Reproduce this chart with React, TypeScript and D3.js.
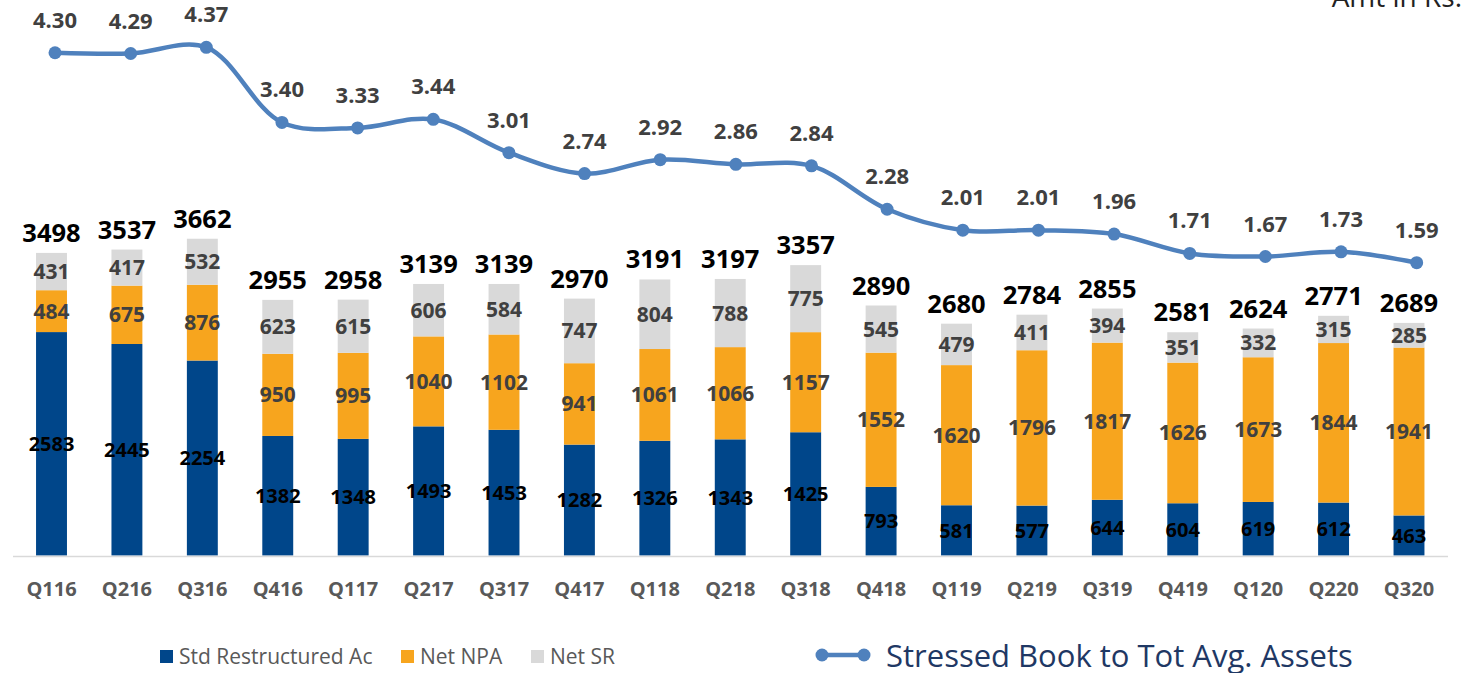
import React from "react";
import * as d3 from "d3";

const quarters = [
  "Q116", "Q216", "Q316", "Q416", "Q117", "Q217", "Q317", "Q417", "Q118", "Q218",
  "Q318", "Q418", "Q119", "Q219", "Q319", "Q419", "Q120", "Q220", "Q320",
];
const stdRestructured = [2583, 2445, 2254, 1382, 1348, 1493, 1453, 1282, 1326, 1343, 1425, 793, 581, 577, 644, 604, 619, 612, 463];
const netNpa = [484, 675, 876, 950, 995, 1040, 1102, 941, 1061, 1066, 1157, 1552, 1620, 1796, 1817, 1626, 1673, 1844, 1941];
const netSr = [431, 417, 532, 623, 615, 606, 584, 747, 804, 788, 775, 545, 479, 411, 394, 351, 332, 315, 285];
const stressedRatio = [4.30, 4.29, 4.37, 3.40, 3.33, 3.44, 3.01, 2.74, 2.92, 2.86, 2.84, 2.28, 2.01, 2.01, 1.96, 1.71, 1.67, 1.73, 1.59];

const seriesNames = ["Std Restructured Ac", "Net NPA", "Net SR"];
const seriesColors = ["#00468a", "#f7a51e", "#d9d9d9"];
const lineName = "Stressed Book to Tot Avg. Assets";

const W = 1461;
const H = 673;
const FONT = "'Open Sans', sans-serif";

export default function App() {
  const x = d3.scaleBand<string>().domain(quarters).range([13.8, 1446.7]).paddingInner(0.59).paddingOuter(0.295);
  // line markers sit a touch right of the bar centres in the original
  const xLine = d3.scaleBand<string>().domain(quarters).range([17.2, 1454.5]);
  const y = d3.scaleLinear().domain([0, 4000]).range([555.5, 209.5]);
  const y2 = d3.scaleLinear().domain([0, 5]).range([385.9, -1.5]);

  const rows = quarters.map((q, i) => ({ q, std: stdRestructured[i], npa: netNpa[i], sr: netSr[i] }));
  const stack = d3.stack<any>().keys(["std", "npa", "sr"])(rows);

  const linePts: [number, number][] = quarters.map((q, i) => [
    (xLine(q) ?? 0) + xLine.bandwidth() / 2,
    y2(stressedRatio[i]),
  ]);
  const linePath = d3.line().curve(d3.curveCatmullRom.alpha(0.5))(linePts) ?? "";

  const bw = x.bandwidth();

  return (
    <svg width={W} height={H} style={{ position: "absolute", left: 0, top: 0, background: "#fff" }} fontFamily={FONT}>
      <text x={1462} y={7} textAnchor="end" fontSize={28} fill="#222">Amt in Rs.</text>

      {/* bars */}
      {stack.map((layer, si) => (
        <g key={si}>
          {layer.map((d, i) => (
            <rect
              key={i}
              x={x(quarters[i])}
              y={y(d[1])}
              width={bw}
              height={y(d[0]) - y(d[1])}
              fill={seriesColors[si]}
            />
          ))}
        </g>
      ))}

      {/* axis line */}
      <line x1={13} x2={1448} y1={556.5} y2={556.5} stroke="#d9d9d9" strokeWidth={1.5} />

      {/* segment labels */}
      {stack.map((layer, si) => (
        <g key={"l" + si}>
          {layer.map((d, i) => (
            <text
              key={i}
              x={(x(quarters[i]) ?? 0) + bw / 2}
              y={(y(d[0]) + y(d[1])) / 2}
              dy="0.36em"
              textAnchor="middle"
              fontSize={si === 0 ? 20 : 21}
              fontWeight="bold"
              fill={si === 0 ? "#000" : "#404040"}
            >
              {d[1] - d[0]}
            </text>
          ))}
        </g>
      ))}

      {/* totals */}
      {rows.map((r, i) => {
        const total = r.std + r.npa + r.sr;
        return (
          <text
            key={i}
            x={(x(r.q) ?? 0) + bw / 2}
            y={y(total) - 11}
            textAnchor="middle"
            fontSize={25.5}
            fontWeight="bold"
            fill="#000"
          >
            {total}
          </text>
        );
      })}

      {/* x labels */}
      {quarters.map((q) => (
        <text
          key={q}
          x={(x(q) ?? 0) + bw / 2}
          y={589}
          dy="0.36em"
          textAnchor="middle"
          fontSize={20}
          fontWeight="bold"
          fill="#595959"
        >
          {q}
        </text>
      ))}

      {/* stressed line */}
      <path d={linePath} fill="none" stroke="#4f81bd" strokeWidth={4.5} />
      {linePts.map((p, i) => (
        <g key={i}>
          <circle cx={p[0]} cy={p[1]} r={6.5} fill="#4f81bd" />
          <text x={p[0]} y={p[1] - 25} textAnchor="middle" fontSize={22} fontWeight="bold" fill="#404040">
            {stressedRatio[i].toFixed(2)}
          </text>
        </g>
      ))}

      {/* legend */}
      {[160, 401, 531].map((lx, i) => (
        <g key={i}>
          <rect x={lx} y={650} width={13} height={13} fill={seriesColors[i]} />
          <text x={lx + 19} y={656.5} dy="0.36em" fontSize={21} fill="#595959">
            {seriesNames[i]}
          </text>
        </g>
      ))}
      <line x1={822} x2={864} y1={655} y2={655} stroke="#4f81bd" strokeWidth={4.5} />
      <circle cx={822} cy={655} r={6.5} fill="#4f81bd" />
      <circle cx={864} cy={655} r={6.5} fill="#4f81bd" />
      <text x={886} y={656} dy="0.36em" fontSize={31} fill="#1f3864">{lineName}</text>
    </svg>
  );
}
